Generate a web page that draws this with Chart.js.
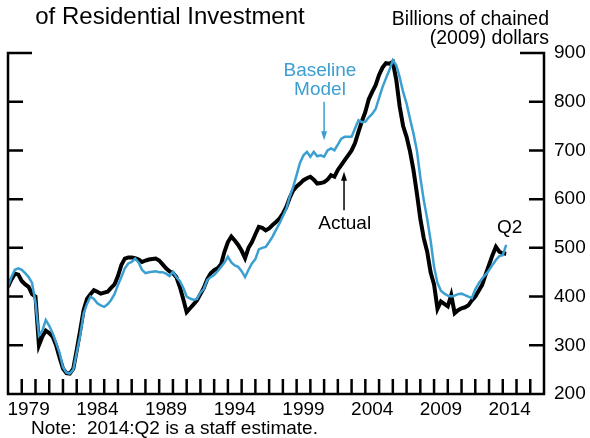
<!DOCTYPE html>
<html>
<head>
<meta charset="utf-8">
<script src="https://cdn.jsdelivr.net/npm/chart.js@4.4.1/dist/chart.umd.min.js"></script>
<style>
  html, body { margin: 0; padding: 0; background: #fff; }
  #wrap { position: relative; width: 590px; height: 438px; }
</style>
</head>
<body>
<div id="wrap"><canvas id="chart" width="590" height="438"></canvas></div>
<script>
// quarterly, starting 1978:Q1, ending 2014:Q2
const startYear = 1978;
const actual = [
  420, 435, 447, 445,  432, 425, 420, 405,  400, 300, 318, 330,  325, 318, 300, 275,
  252, 243, 242, 252,  290, 330, 372, 395,  405, 413, 410, 406,  408, 410, 418, 425,
  442, 465, 478, 480,  480, 479, 476, 471,  474, 476, 477, 478,  474, 466, 458, 452,
  448, 440, 420, 395,  368, 376, 384, 392,  405, 418, 436, 448,  454, 458, 466, 492,
  512, 523, 515, 506,  494, 479, 500, 512,  528, 543, 541, 536,  540, 547, 553, 560,
  570, 584, 603, 618,  626, 632, 639, 643,  646, 640, 632, 633,  635, 640, 649, 646,
  660, 670, 680, 690,  700, 715, 738, 760,  779, 805, 820, 834,  855, 870, 879, 878,
  882, 845, 790, 750,  728, 698, 660, 612,  560, 520, 492, 450,  425, 375, 390, 385,
  380, 403, 366, 372,  376, 378, 382, 392,  400, 412, 424, 445,  465, 485, 502, 492,
  489, 488
];
const baseline = [
  420, 440, 455, 458,  455, 448, 440, 428,  388, 320, 330, 352,  340, 325, 305, 285,
  255, 244, 242, 250,  285, 320, 365, 385,  400, 395, 386, 382,  379, 384, 393, 405,
  424, 440, 458, 468,  471, 478, 470, 455,  448, 450, 451, 452,  450, 450, 447, 442,
  451, 440, 432, 418,  400, 396, 393, 395,  408, 416, 434, 440,  444, 452, 461, 470,
  482, 470, 464, 461,  452, 440, 455, 468,  477, 497, 500, 502,  512, 523, 537, 550,
  565, 580, 605, 625,  650, 675, 690, 697,  687, 697, 688, 690,  687, 700, 704, 700,
  712, 724, 728, 728,  728, 745, 762, 758,  759, 768, 775, 785,  808, 830, 848, 865,
  885, 875, 850, 820,  796, 765, 735, 700,  645, 598, 560, 515,  461, 428, 412, 406,
  402, 400, 402, 405,  406, 403, 400, 397,  415, 427, 437, 445,  454, 465, 475, 483,
  485, 506
];
const yearLabels = [1979, 1984, 1989, 1994, 1999, 2004, 2009, 2014];
const yTicks = [200, 300, 400, 500, 600, 700, 800, 900];
const xMin = 1978, xMax = 2017;

const BLUE = '#3b9fd1';
const FONT = 'Liberation Sans, Arial, sans-serif';

const toPoints = arr => arr.map((v, i) => ({ x: startYear + i / 4, y: v }));

const frame = {
  id: 'frame',
  afterDatasetsDraw(chart) {
    const { ctx, chartArea: a, scales: { x, y } } = chart;
    ctx.save();
    ctx.strokeStyle = '#000';
    ctx.fillStyle = '#000';
    ctx.lineWidth = 2.5;
    ctx.lineCap = 'butt';
    // axes
    ctx.beginPath();
    ctx.moveTo(a.left + 24, a.top); ctx.lineTo(a.left, a.top); ctx.lineTo(a.left, a.bottom);
    ctx.lineTo(a.right, a.bottom); ctx.lineTo(a.right, a.top); ctx.lineTo(a.right - 24, a.top);
    ctx.stroke();
    // y ticks both sides
    yTicks.forEach(v => {
      if (v === 900 || v === 200) return;
      const py = y.getPixelForValue(v);
      ctx.beginPath();
      ctx.moveTo(a.left, py); ctx.lineTo(a.left + 15, py);
      ctx.moveTo(a.right, py); ctx.lineTo(a.right - 15, py);
      ctx.stroke();
    });
    // x ticks every year
    for (let yr = xMin + 1; yr < xMax; yr++) {
      const px = x.getPixelForValue(yr);
      ctx.beginPath();
      ctx.moveTo(px, a.bottom); ctx.lineTo(px, a.bottom - 15);
      ctx.stroke();
    }
    // tick labels
    ctx.font = '19px ' + FONT;
    ctx.textBaseline = 'middle';
    ctx.textAlign = 'left';
    yTicks.forEach(v => ctx.fillText(String(v), a.right + 10, y.getPixelForValue(v)));
    ctx.textBaseline = 'alphabetic';
    ctx.textAlign = 'center';
    yearLabels.forEach(yr => ctx.fillText(String(yr), x.getPixelForValue(yr + 0.5), a.bottom + 21));

    // titles and notes
    ctx.font = '24px ' + FONT;
    ctx.fillText('of Residential Investment', 170, 24);
    ctx.font = '19.5px ' + FONT;
    ctx.textAlign = 'right';
    ctx.fillText('Billions of chained', 549, 25);
    ctx.fillText('(2009) dollars', 549, 44);
    ctx.font = '19px ' + FONT;
    ctx.textAlign = 'left';
    ctx.fillText('Note:  2014:Q2 is a staff estimate.', 31, 434);

    // annotations
    ctx.textAlign = 'center';
    ctx.fillStyle = BLUE;
    ctx.fillText('Baseline', x.getPixelForValue(2000.7), 76);
    ctx.fillText('Model', x.getPixelForValue(2000.7), 95);
    ctx.fillStyle = '#000';
    ctx.fillText('Actual', x.getPixelForValue(2002.5), 229);
    ctx.fillText('Q2', x.getPixelForValue(2014.5), 233);

    const arrow = (xv, y0, y1, color) => {
      const px = x.getPixelForValue(xv);
      const p0 = y.getPixelForValue(y0), p1 = y.getPixelForValue(y1);
      const dir = p1 > p0 ? 1 : -1;
      ctx.strokeStyle = color; ctx.fillStyle = color;
      ctx.lineWidth = 1.5;
      ctx.beginPath(); ctx.moveTo(px, p0); ctx.lineTo(px, p1 - dir * 6); ctx.stroke();
      ctx.beginPath();
      ctx.moveTo(px, p1); ctx.lineTo(px - 3, p1 - dir * 9); ctx.lineTo(px + 3, p1 - dir * 9);
      ctx.closePath(); ctx.fill();
    };
    arrow(2001.0, 800, 721, BLUE);
    arrow(2002.45, 577, 656, '#000');
    ctx.restore();
  }
};

new Chart(document.getElementById('chart'), {
  type: 'line',
  data: {
    datasets: [
      {
        label: 'Baseline Model',
        data: toPoints(baseline),
        borderColor: BLUE,
        borderWidth: 2.5,
        pointRadius: 0,
        tension: 0,
        order: 0,
      },
      {
        label: 'Actual',
        data: toPoints(actual),
        borderColor: '#000',
        borderWidth: 4,
        pointRadius: 0,
        tension: 0,
        order: 1,
      },
    ],
  },
  options: {
    responsive: false,
    animation: false,
    devicePixelRatio: 1,
    layout: { padding: { left: 8, right: 46, top: 53, bottom: 44 } },
    plugins: { legend: { display: false }, tooltip: { enabled: false } },
    scales: {
      x: { type: 'linear', min: xMin, max: xMax, display: false },
      y: { min: 200, max: 900, display: false },
    },
  },
  plugins: [frame],
});
</script>
</body>
</html>
